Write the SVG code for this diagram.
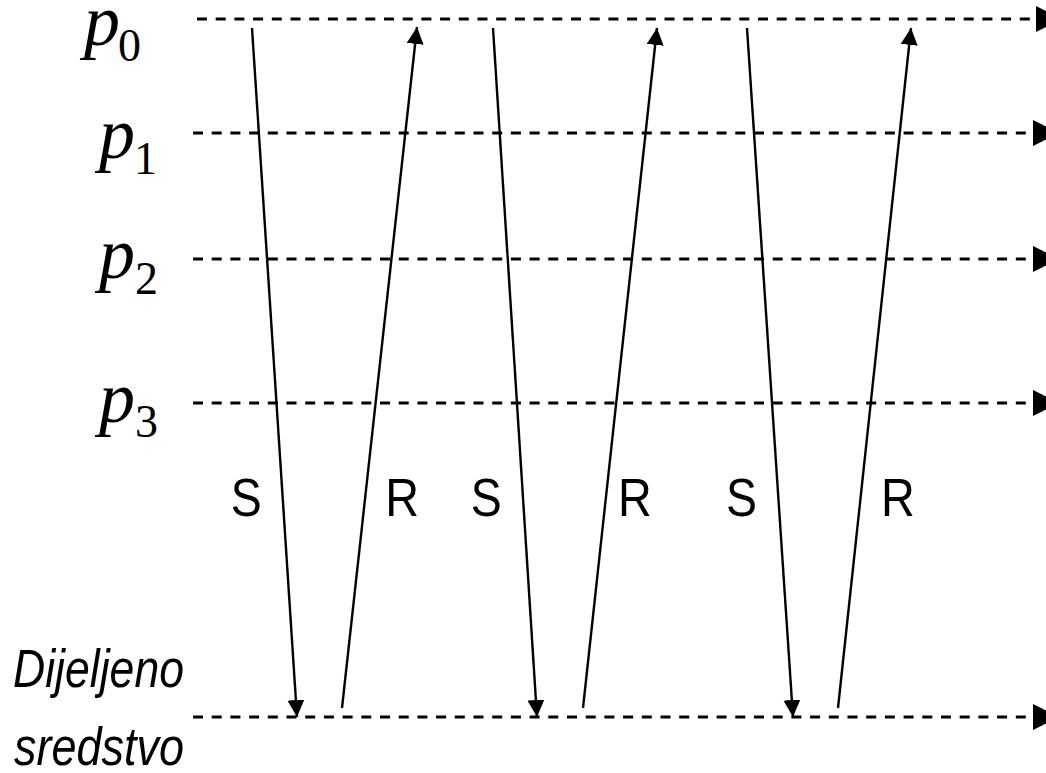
<svg xmlns="http://www.w3.org/2000/svg" width="1046" height="773" viewBox="0 0 1046 773">
<style>
.tl{stroke:#000;stroke-width:3;stroke-dasharray:10 8.7;fill:none}
.ah{fill:#000;stroke:none}
.msg{stroke:#000;stroke-width:2.4;fill:none;marker-end:url(#arr)}
.p{font-family:"Liberation Serif","Times New Roman",serif;font-style:italic;font-size:72px;fill:#000}
.sub{font-family:"Liberation Serif","Times New Roman",serif;font-size:46px;fill:#000}
.lab{font-family:"Liberation Sans",Arial,sans-serif;font-size:54px;fill:#000}
.it{font-family:"Liberation Sans",Arial,sans-serif;font-style:italic;font-size:53px;fill:#000}
</style>
<defs>
<marker id="arr" markerUnits="userSpaceOnUse" markerWidth="17" markerHeight="17" refX="17" refY="8.5" orient="auto" viewBox="0 0 17 17">
<path d="M0,0 L17,8.5 L0,17 z" fill="#000"/>
</marker>
</defs>
<rect width="1046" height="773" fill="#fff"/>
<g id="p0">
<line class="tl" x1="197" y1="19" x2="1036" y2="19"/>
<polygon class="ah" points="1036,6 1062,19 1036,32"/>
<text class="p" x="84" y="44.5">p</text><text class="sub" x="118" y="61">0</text>
</g>
<g id="p1">
<line class="tl" x1="193" y1="133" x2="1033" y2="133"/>
<polygon class="ah" points="1033,120 1059,133 1033,146"/>
<text class="p" x="99" y="157.5">p</text><text class="sub" x="134" y="174">1</text>
</g>
<g id="p2">
<line class="tl" x1="193" y1="259" x2="1033" y2="259"/>
<polygon class="ah" points="1033,246 1059,259 1033,272"/>
<text class="p" x="99" y="277.5">p</text><text class="sub" x="135" y="294">2</text>
</g>
<g id="p3">
<line class="tl" x1="193" y1="403" x2="1033" y2="403"/>
<polygon class="ah" points="1033,390 1059,403 1033,416"/>
<text class="p" x="99" y="421.5">p</text><text class="sub" x="135" y="437">3</text>
</g>
<g id="medium">
<line class="tl" x1="193" y1="717" x2="1033" y2="717"/>
<polygon class="ah" points="1033,704 1059,717 1033,730"/>
<text class="it" x="13" y="687" textLength="171" lengthAdjust="spacingAndGlyphs">Dijeljeno</text>
<text class="it" x="14" y="765" textLength="170" lengthAdjust="spacingAndGlyphs">sredstvo</text>
</g>
<g id="connectors">
<line class="msg" x1="252" y1="28" x2="297" y2="717"/>
<line class="msg" x1="342" y1="708" x2="417" y2="27"/>
<line class="msg" x1="493" y1="28" x2="537" y2="717"/>
<line class="msg" x1="583" y1="708" x2="657" y2="28"/>
<line class="msg" x1="747" y1="28" x2="793" y2="717"/>
<line class="msg" x1="838" y1="708" x2="911" y2="28"/>
</g>
<g id="labels">
<text class="lab" x="230.7" y="516" textLength="31" lengthAdjust="spacingAndGlyphs">S</text>
<text class="lab" x="385.3" y="516" textLength="33.8" lengthAdjust="spacingAndGlyphs">R</text>
<text class="lab" x="470.7" y="516" textLength="31" lengthAdjust="spacingAndGlyphs">S</text>
<text class="lab" x="618" y="516" textLength="33.8" lengthAdjust="spacingAndGlyphs">R</text>
<text class="lab" x="726" y="516" textLength="31" lengthAdjust="spacingAndGlyphs">S</text>
<text class="lab" x="881" y="516" textLength="33.8" lengthAdjust="spacingAndGlyphs">R</text>
</g>
</svg>
